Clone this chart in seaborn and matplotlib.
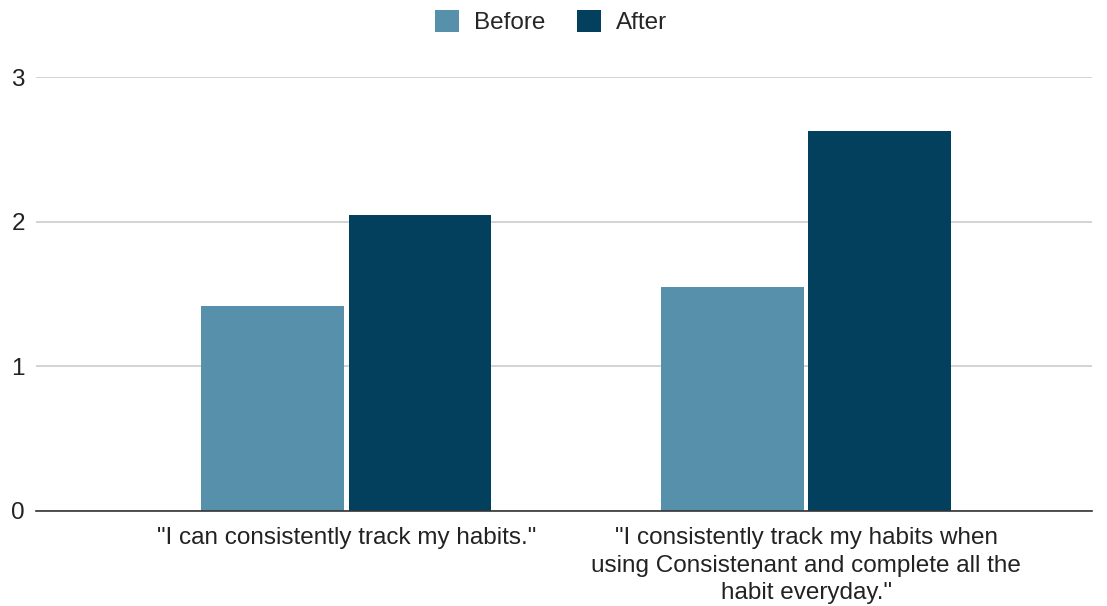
import matplotlib
matplotlib.use("Agg")
import matplotlib.pyplot as plt
import seaborn as sns
import pandas as pd
from matplotlib.patches import Patch

categories = ['"I can consistently track my habits."',
              '"I consistently track my habits when\nusing Consistenant and complete all the\nhabit everyday."']
series_names = ["Before", "After"]
before_values = [1.42, 1.55]
after_values = [2.05, 2.63]
y_ticks = [0, 1, 2, 3]

colors = {"Before": "#5790ab", "After": "#03405e"}

rows = []
for c, b, a in zip(categories, before_values, after_values):
    rows.append({"cat": c, "series": "Before", "value": b})
    rows.append({"cat": c, "series": "After", "value": a})
df = pd.DataFrame(rows)

sns.set_style("white")
plt.rcParams['font.family'] = ['Liberation Sans', 'DejaVu Sans']

fig = plt.figure(figsize=(11.07, 6.06), dpi=100)
ax = fig.add_axes([36/1107, 1-510.7/606, (1092-36)/1107, (510.7-77.3)/606])

sns.barplot(data=df, x="cat", y="value", hue="series", palette=colors,
            hue_order=series_names, order=categories, width=0.64, gap=0.03,
            ax=ax, legend=False, saturation=1, linewidth=0)

ax.set_xlim(-0.675, 1.622)
ax.set_ylim(0, 3)
ax.set_yticks(y_ticks)
ax.set_yticklabels([str(t) for t in y_ticks], fontsize=17.5, color="#222222")
ax.tick_params(axis='y', length=0, pad=8)
ax.tick_params(axis='x', length=0, pad=12, labelsize=17.5, labelcolor="#222222")
for lbl in ax.get_xticklabels():
    lbl.set_linespacing(1.32)
ax.set_xlabel("")
ax.set_ylabel("")
ax.grid(axis='y', color="#cccccc", linewidth=1.2)
ax.set_axisbelow(True)
for s in ["top", "right", "left"]:
    ax.spines[s].set_visible(False)
ax.spines["bottom"].set_color("#333333")
ax.spines["bottom"].set_linewidth(1.2)
ax.spines["bottom"].set_zorder(5)

handles = [Patch(facecolor=colors[n], edgecolor="none") for n in series_names]
fig.legend(handles, series_names, loc="center", bbox_to_anchor=(551/1107, 1-22/606),
           ncol=2, frameon=False, fontsize=17.5, handlelength=1.0, handleheight=1.0,
           columnspacing=1.3, handletextpad=0.6)

fig.savefig("out.png", dpi=100)
